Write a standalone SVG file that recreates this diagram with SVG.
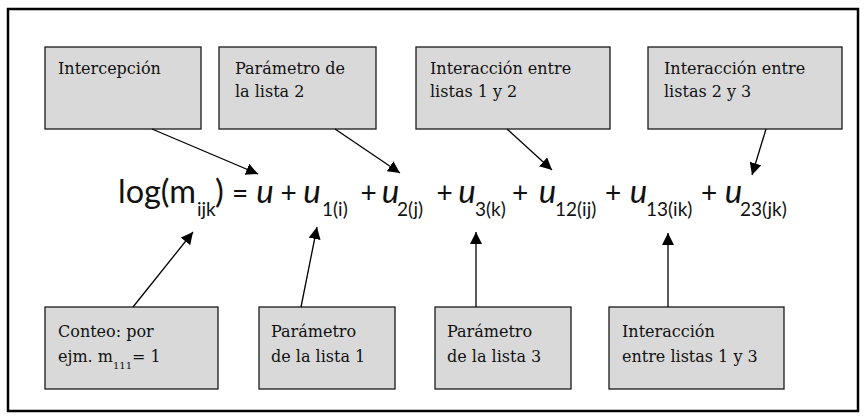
<svg xmlns="http://www.w3.org/2000/svg" width="867" height="419" viewBox="0 0 867 419">
<style>
.box{fill:#d9d9d9;stroke:#1a1a1a;stroke-width:1.3}
.lbl{font-family:"DejaVu Serif","Liberation Serif",serif;font-size:16px;fill:#111}
.eq{font-family:Lato,"Open Sans",sans-serif;font-size:33px;fill:#111}
.op{font-family:Lato,"Open Sans",sans-serif;font-size:28px;fill:#111;text-anchor:middle}
.u{font-family:Lato,"Open Sans",sans-serif;font-size:33px;font-style:italic;fill:#111;text-anchor:middle}
.sub{font-family:Lato,"Open Sans",sans-serif;font-size:19px;fill:#111}
.conn{stroke:#000;stroke-width:1.3;fill:none;marker-end:url(#ah)}
</style>
<defs>
<marker id="ah" markerUnits="userSpaceOnUse" markerWidth="13" markerHeight="12" refX="12" refY="6" orient="auto">
<path d="M0,0 L12,6 L0,12 z" fill="#000"/>
</marker>
</defs>
<rect x="0" y="0" width="867" height="419" fill="#fff"/>
<rect id="frame" x="8" y="9" width="850" height="402" fill="none" stroke="#000" stroke-width="2.5"/>

<g id="n-intercepcion">
<rect class="box" x="45" y="47" width="156" height="82"/>
<text class="lbl" x="58" y="74">Intercepción</text>
</g>
<g id="n-param2">
<rect class="box" x="219" y="47" width="157" height="82"/>
<text class="lbl" x="235" y="74">Parámetro de</text>
<text class="lbl" x="235" y="97">la lista 2</text>
</g>
<g id="n-inter12">
<rect class="box" x="416" y="47" width="194" height="82"/>
<text class="lbl" x="430" y="74">Interacción entre</text>
<text class="lbl" x="430" y="97">listas 1 y 2</text>
</g>
<g id="n-inter23">
<rect class="box" x="648" y="47" width="194" height="82"/>
<text class="lbl" x="664" y="74">Interacción entre</text>
<text class="lbl" x="664" y="97">listas 2 y 3</text>
</g>
<g id="n-conteo">
<rect class="box" x="45" y="307" width="173" height="82"/>
<text class="lbl" x="58" y="337">Conteo: por</text>
<text class="lbl" x="58" y="362">ejm. m<tspan font-size="10" dy="7">111</tspan><tspan dy="-7">= 1</tspan></text>
</g>
<g id="n-param1">
<rect class="box" x="259" y="307" width="136" height="82"/>
<text class="lbl" x="271" y="337">Parámetro</text>
<text class="lbl" x="271" y="362">de la lista 1</text>
</g>
<g id="n-param3">
<rect class="box" x="435" y="307" width="136" height="82"/>
<text class="lbl" x="447" y="337">Parámetro</text>
<text class="lbl" x="447" y="362">de la lista 3</text>
</g>
<g id="n-inter13">
<rect class="box" x="609" y="307" width="175" height="82"/>
<text class="lbl" x="622" y="337">Interacción</text>
<text class="lbl" x="622" y="362">entre listas 1 y 3</text>
</g>

<g id="equation">
<text class="eq" x="118" y="203" textLength="78" lengthAdjust="spacingAndGlyphs">log(m</text>
<text class="sub" x="197" y="216">ijk</text>
<text class="eq" x="215" y="203">)</text>
<text class="op" x="240" y="203">=</text>
<text class="u" x="265" y="203">u</text>
<text class="op" x="288.5" y="203">+</text>
<text class="u" x="312" y="203">u</text>
<text class="sub" x="322" y="216">1(i)</text>
<text class="op" x="368.5" y="203">+</text>
<text class="u" x="390.5" y="203">u</text>
<text class="sub" x="397" y="216">2(j)</text>
<text class="op" x="444.5" y="203">+</text>
<text class="u" x="467" y="203">u</text>
<text class="sub" x="475" y="216">3(k)</text>
<text class="op" x="520" y="203">+</text>
<text class="u" x="547.5" y="203">u</text>
<text class="sub" x="555" y="216">12(ij)</text>
<text class="op" x="613" y="203">+</text>
<text class="u" x="638.5" y="203">u</text>
<text class="sub" x="646" y="216">13(ik)</text>
<text class="op" x="709" y="203">+</text>
<text class="u" x="733.5" y="203">u</text>
<text class="sub" x="740" y="216">23(jk)</text>
</g>

<g id="connectors">
<line class="conn" x1="152" y1="129" x2="258" y2="174"/>
<line class="conn" x1="335" y1="129" x2="400" y2="173"/>
<line class="conn" x1="507" y1="129" x2="552" y2="170"/>
<line class="conn" x1="766" y1="129" x2="752" y2="175"/>
<line class="conn" x1="133" y1="307" x2="193" y2="232"/>
<line class="conn" x1="301" y1="307" x2="317" y2="227"/>
<line class="conn" x1="476" y1="307" x2="476" y2="232"/>
<line class="conn" x1="668" y1="307" x2="668" y2="233"/>
</g>
</svg>
